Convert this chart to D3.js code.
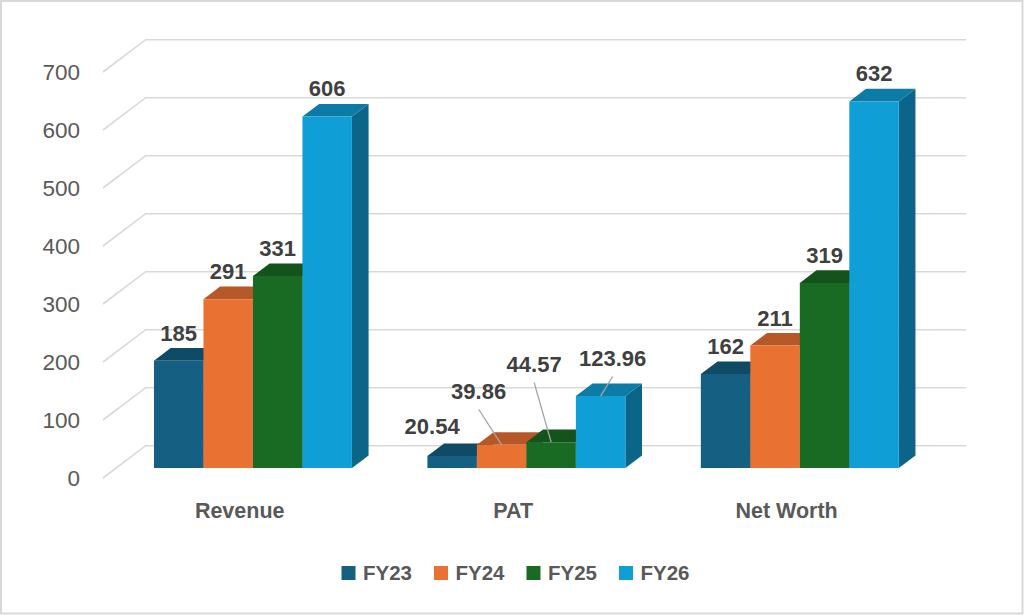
<!DOCTYPE html>
<html>
<head>
<meta charset="utf-8">
<script src="https://cdn.jsdelivr.net/npm/d3@7"></script>
<style>
  html, body { margin: 0; padding: 0; background: #fff; }
  svg { display: block; font-family: "Liberation Sans", Arial, sans-serif; }
</style>
</head>
<body>
<div id="chart"></div>
<script>
const categories = ["Revenue", "PAT", "Net Worth"];
const seriesNames = ["FY23", "FY24", "FY25", "FY26"];
const revenue = [185, 291, 331, 606];
const pat = [20.54, 39.86, 44.57, 123.96];
const netWorth = [162, 211, 319, 632];
const yTicks = [0, 100, 200, 300, 400, 500, 600, 700];
const seriesColors = ["#156082", "#E97132", "#196B24", "#0F9ED5"];

const rows = [revenue, pat, netWorth];

// PAT labels were dragged off the bars in the original, with leader lines
const labelNudge = {
  PAT: [[-20, -1.5], [-23, -26], [-17, -50], [12, -10]],
};

const width = 1024;
const height = 615;

// oblique 3D projection: x along categories, value up, t = depth (0 front, 1 back wall)
const floorY = 478;
const depth = { dx: 42.7, dy: -32.3 };
const barT = [0.31, 0.70];

const x = d3.scaleBand().domain(categories).range([103, 923.3])
  .paddingInner(0.276).paddingOuter(0.138);
const xs = d3.scaleBand().domain(seriesNames).range([0, x.bandwidth()]);
const y = d3.scaleLinear().domain([0, 700]).range([floorY, floorY - 406]);

const proj = (px, v, t) => [px + t * depth.dx, y(v) + t * depth.dy];

const svg = d3.select("#chart").append("svg")
  .attr("width", width).attr("height", height);

svg.append("rect")
  .attr("x", 1).attr("y", 1).attr("width", width - 2.5).attr("height", height - 2.5)
  .attr("fill", "#fff").attr("stroke", "#D9D9D9").attr("stroke-width", 2);

// gridlines on left wall and back wall
const grid = svg.append("g").attr("stroke", "#D9D9D9").attr("stroke-width", 1.6).attr("fill", "none");
const [x0, x1] = x.range();
grid.selectAll("path")
  .data(yTicks)
  .join("path")
  .attr("d", (v) => {
    const a = proj(x0, v, 0);
    const b = proj(x0, v, 1);
    const c = proj(x1, v, 1);
    return `M${a}L${b}L${c}`;
  });

svg.append("g")
  .attr("fill", "#595959")
  .attr("font-size", 22.5)
  .attr("text-anchor", "end")
  .selectAll("text")
  .data(yTicks)
  .join("text")
  .attr("x", 80)
  .attr("y", (v) => y(v))
  .attr("dy", "0.36em")
  .text((v) => v);

// bars, drawn left to right so each bar hides the side of the one before
const bars = svg.append("g");
const labelLayer = svg.append("g");
const line = d3.line();

categories.forEach((cat, ci) => {
  const g = bars.append("g");
  rows[ci].forEach((value, si) => {
    const left = x(cat) + xs(seriesNames[si]);
    const right = left + xs.bandwidth();
    const [tf, tb] = barT;
    const base = seriesColors[si];
    const top = d3.color(base).darker(0.7).formatHex();
    const side = d3.color(base).darker(1.25).formatHex();

    g.append("path")
      .attr("fill", side)
      .attr("d", line([proj(right, 0, tf), proj(right, 0, tb), proj(right, value, tb), proj(right, value, tf)]) + "Z");
    g.append("path")
      .attr("fill", top)
      .attr("d", line([proj(left, value, tf), proj(left, value, tb), proj(right, value, tb), proj(right, value, tf)]) + "Z");
    g.append("path")
      .attr("fill", base)
      .attr("d", line([proj(left, 0, tf), proj(right, 0, tf), proj(right, value, tf), proj(left, value, tf)]) + "Z");

    const [fx, fy] = proj((left + right) / 2, value, tf);
    const backTop = proj(left, value, tb)[1];
    const nudge = labelNudge[cat] ? labelNudge[cat][si] : [0, 0];
    const lx = fx + nudge[0];
    const ly = backTop - 7.5 + nudge[1];

    if (Math.abs(nudge[1]) > 5) {
      labelLayer.append("line")
        .attr("x1", lx).attr("y1", ly + 10.5)
        .attr("x2", fx).attr("y2", fy)
        .attr("stroke", "#A6A6A6").attr("stroke-width", 1.3);
    }
    labelLayer.append("text")
      .attr("x", lx).attr("y", ly)
      .attr("text-anchor", "middle")
      .attr("font-size", 22)
      .attr("font-weight", "bold")
      .attr("fill", "#404040")
      .text(value);
  });
});

// category labels sit under the front edge of the floor
svg.append("g")
  .attr("fill", "#595959")
  .attr("font-size", 21.5)
  .attr("font-weight", "bold")
  .attr("text-anchor", "middle")
  .selectAll("text")
  .data(categories)
  .join("text")
  .attr("x", (d) => x(d) + x.bandwidth() / 2)
  .attr("y", 517.5)
  .text((d) => d);

// legend
const legendStep = 92.5;
const legendStart = 341.5;
const legend = svg.append("g")
  .selectAll("g")
  .data(seriesNames)
  .join("g")
  .attr("transform", (d, i) => `translate(${legendStart + i * legendStep},566)`);
legend.append("rect")
  .attr("width", 14).attr("height", 14)
  .attr("fill", (d, i) => seriesColors[i]);
legend.append("text")
  .attr("x", 21.5).attr("y", 14)
  .attr("font-size", 20.5)
  .attr("font-weight", "bold")
  .attr("fill", "#595959")
  .text((d) => d);
</script>
</body>
</html>
